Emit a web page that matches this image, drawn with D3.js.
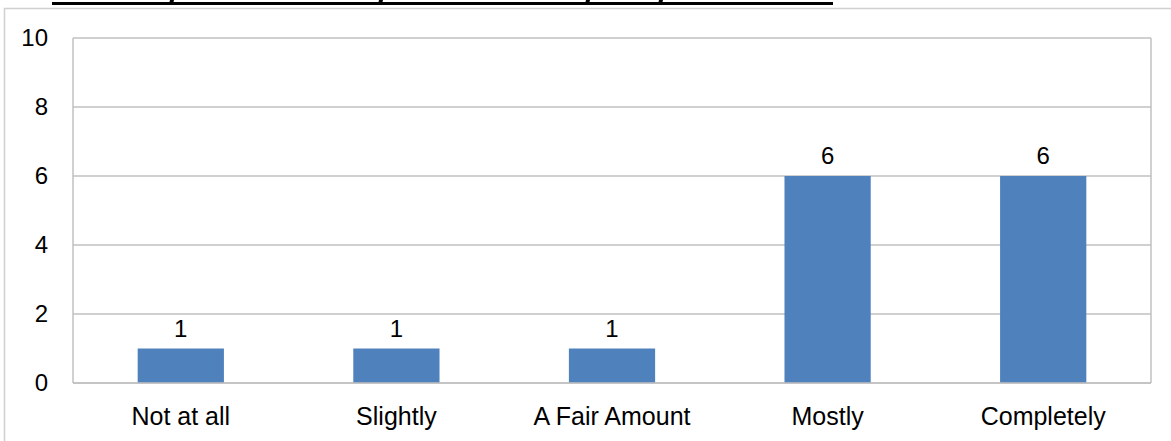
<!DOCTYPE html>
<html>
<head>
<meta charset="utf-8">
<script src="https://cdn.jsdelivr.net/npm/d3@7"></script>
<style>
  html, body { margin: 0; padding: 0; background: #fff; }
  svg { display: block; }
  text { font-family: "Liberation Sans", Arial, sans-serif; fill: #000; }
</style>
</head>
<body>
<svg id="chart" width="1171" height="441"></svg>
<script>
const categories = ["Not at all", "Slightly", "A Fair Amount", "Mostly", "Completely"];
const values = [1, 1, 1, 6, 6];
const yTicks = [0, 2, 4, 6, 8, 10];

const svg = d3.select("#chart");
const W = 1171, H = 441;
const plot = { left: 73, right: 1151, top: 38, bottom: 383 };

// outer chart border (extends past the right/bottom edges of the picture)
svg.append("rect")
  .attr("x", 4.5).attr("y", 8.5)
  .attr("width", W + 20).attr("height", H + 20)
  .attr("fill", "#fff").attr("stroke", "#d0d0d0").attr("stroke-width", 1.5);

// remnant of the cropped underlined title above the chart
svg.append("line")
  .attr("x1", 52).attr("x2", 833).attr("y1", 3.5).attr("y2", 3.5)
  .attr("stroke", "#000").attr("stroke-width", 3);
[172, 381, 588, 661].forEach(x => {
  svg.append("path")
    .attr("d", `M${x - 2},0 L${x + 2},0 L${x + 1},4 L${x - 3},4 Z`)
    .attr("fill", "#000");
});

const x = d3.scaleBand().domain(categories).range([plot.left, plot.right]).paddingInner(0.6).paddingOuter(0.3);
const y = d3.scaleLinear().domain([0, 10]).range([plot.bottom, plot.top]);

// gridlines
svg.append("g").selectAll("line").data(yTicks).join("line")
  .attr("x1", plot.left).attr("x2", plot.right)
  .attr("y1", d => y(d)).attr("y2", d => y(d))
  .attr("stroke", "#c0c0c0").attr("stroke-width", 1.5);

// plot area vertical edges
svg.append("line").attr("x1", plot.left).attr("x2", plot.left)
  .attr("y1", plot.top).attr("y2", plot.bottom).attr("stroke", "#c0c0c0").attr("stroke-width", 1.5);
svg.append("line").attr("x1", plot.right).attr("x2", plot.right)
  .attr("y1", plot.top).attr("y2", plot.bottom).attr("stroke", "#c0c0c0").attr("stroke-width", 1.5);

// bars
svg.append("g").selectAll("rect").data(values).join("rect")
  .attr("x", (d, i) => x(categories[i]))
  .attr("width", x.bandwidth())
  .attr("y", d => y(d))
  .attr("height", d => y(0) - y(d))
  .attr("fill", "#4f81bd");

// x-axis line on top of bars
svg.append("line").attr("x1", plot.left).attr("x2", plot.right)
  .attr("y1", y(0)).attr("y2", y(0)).attr("stroke", "#c0c0c0").attr("stroke-width", 1.5);

// value labels
svg.append("g").selectAll("text").data(values).join("text")
  .attr("x", (d, i) => x(categories[i]) + x.bandwidth() / 2)
  .attr("y", d => y(d) - 12)
  .attr("text-anchor", "middle")
  .attr("font-size", 24)
  .text(d => d);

// y tick labels
const yAxis = d3.axisLeft(y).tickValues(yTicks).tickSize(0).tickPadding(25);
const gy = svg.append("g").attr("transform", `translate(${plot.left},0)`).call(yAxis);
gy.select(".domain").remove();
gy.selectAll("text").attr("font-size", 24).attr("font-family", "Liberation Sans, Arial, sans-serif").attr("fill", "#000");

// x category labels
const xAxis = d3.axisBottom(x).tickSize(0).tickPadding(24);
const gx = svg.append("g").attr("transform", `translate(0,${plot.bottom})`).call(xAxis);
gx.select(".domain").remove();
gx.selectAll("text").attr("font-size", 25).attr("font-family", "Liberation Sans, Arial, sans-serif").attr("fill", "#000");
</script>
</body>
</html>
